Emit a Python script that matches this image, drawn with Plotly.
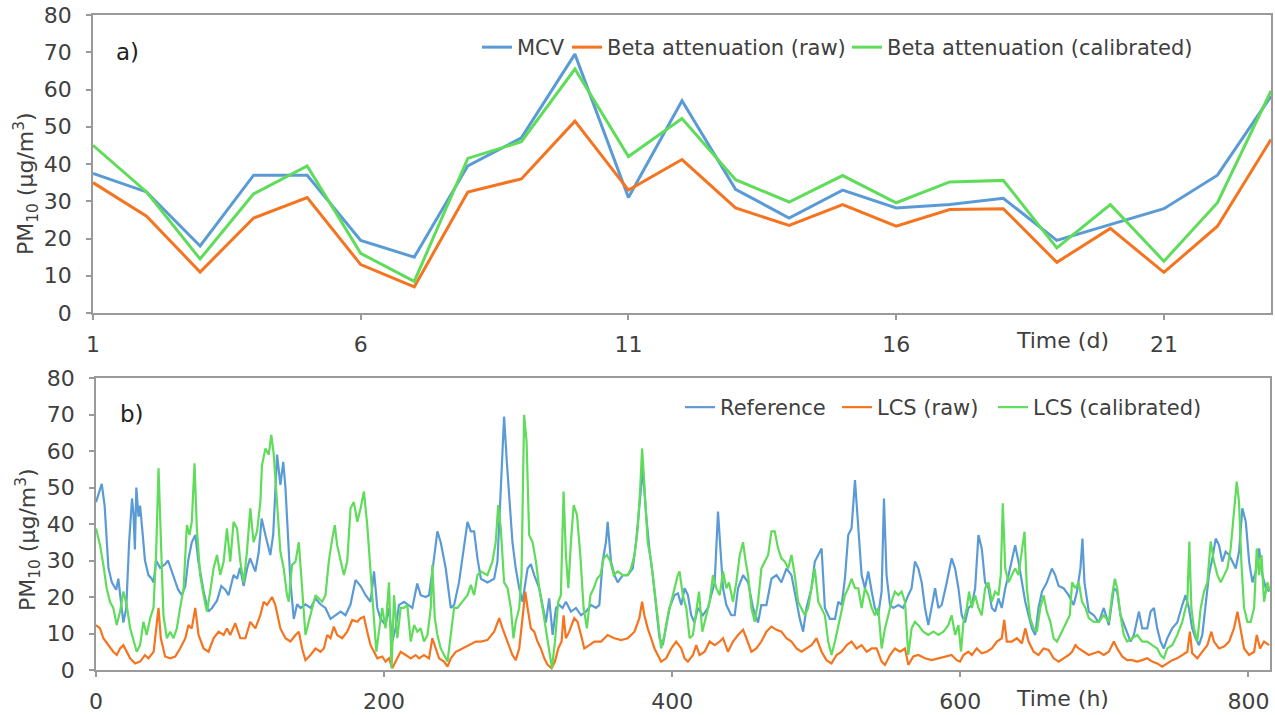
import plotly.graph_objects as go

# ---------------- Panel a) daily data ----------------
days = list(range(1, 24))
mcv = [37.5, 32.5, 18, 37, 37, 19.5, 15, 39.5, 47, 69.5, 31, 57, 33.2, 25.5, 33, 28.2, 29.1, 30.8, 19.5, 23.7, 28, 37, 58.2]
beta_raw = [35, 26, 11, 25.5, 31, 13, 7, 32.5, 36, 51.5, 33, 41.2, 28.2, 23.5, 29.1, 23.3, 27.8, 28, 13.6, 22.7, 10.9, 23.3, 46.6]
beta_cal = [45, 32.5, 14.5, 32, 39.5, 16, 8.5, 41.5, 46, 65.5, 42, 52.2, 35.8, 29.8, 36.9, 29.6, 35.2, 35.6, 17.5, 29.1, 13.9, 29.6, 59.6]
day_ticks = [1, 6, 11, 16, 21]

# ---------------- Panel b) hourly data (read at turning points) ----------------
ref_h = [0, 4, 6, 7.4, 8.6, 11, 14, 15.5, 18, 19, 21, 23, 25, 26, 27, 28, 29.5, 30.6, 32, 34, 36.4, 38.7, 40, 41.7, 44.5, 48, 50, 52.6, 55, 57, 59.6, 62, 64, 66.5, 69, 71, 74.7, 78, 80.5, 84, 87, 89.7, 92, 95.5, 98, 100, 102.5, 105, 107, 110.6, 113, 115, 117.6, 121, 123, 125.7, 128, 130, 131.5, 133, 135, 137.3, 139.6, 142, 145.4, 149, 152.4, 155.8, 159.3, 162.8, 166.3, 169.8, 173.2, 176.7, 180.2, 183.7, 187.2, 190.6, 193, 195.3, 197.6, 201, 203.4, 205.7, 208, 210.3, 213.8, 217.3, 219.6, 223, 225.4, 228.9, 231.2, 233.5, 237, 239.3, 242.8, 246.3, 248.6, 252, 255.6, 257.9, 260.2, 262.5, 264.8, 267.2, 271.7, 276.4, 278.7, 281, 283.3, 285.2, 286.8, 289.1, 291.4, 293.8, 296.1, 299.6, 301.9, 304.2, 307.7, 310, 312.3, 314.6, 317, 319.3, 321.6, 323.9, 326.2, 329.7, 333.2, 336.7, 340.1, 343.6, 347.1, 349.4, 351.7, 354, 355.2, 357.5, 359.9, 362.2, 365.7, 369.1, 372.6, 374.9, 377.2, 379.6, 381.9, 384.2, 386.5, 388.8, 391.2, 393.5, 395.8, 398.1, 401.6, 404, 406.3, 408.6, 410.9, 413.2, 415.5, 417.9, 421.3, 424.8, 427.1, 429.5, 431.8, 433.4, 435.3, 437.6, 441, 443.4, 445.7, 449.2, 452.7, 456.1, 459.6, 461.9, 465.4, 468.9, 472.4, 475.8, 479.3, 482.8, 486.3, 488.6, 490.9, 493.2, 496.7, 499, 501.4, 503.7, 506, 509.5, 513, 515.3, 517.6, 519.9, 522.2, 524.5, 526.9, 529.2, 531.5, 533.8, 536.1, 538.5, 540.7, 543, 545.4, 547, 548.8, 551.2, 553.5, 557, 560.4, 563.9, 566.2, 568.5, 570.9, 573.2, 575.5, 577.8, 580.1, 582.5, 584.8, 587.1, 590.6, 594, 596.4, 598.7, 601, 603.3, 605.6, 608, 610.3, 612.6, 614.9, 617.2, 619.6, 621.9, 624.2, 626.5, 628.8, 631.2, 633.5, 635.8, 638.1, 640.4, 642.8, 645.1, 647.4, 649.7, 652, 654.3, 656.7, 660.1, 663.6, 665.9, 668.3, 671.7, 675.2, 678.7, 681, 683.4, 684.8, 686.2, 689.2, 692.7, 696.1, 699.6, 703.1, 706.6, 708.9, 711.2, 714.7, 718.2, 720.5, 724, 726.3, 729.8, 732.1, 734.4, 736.7, 739, 741.3, 743.7, 747.1, 750.6, 754.1, 756.4, 758.7, 761, 763.4, 765.7, 768, 770.3, 772.6, 775, 777.3, 779.6, 781.9, 784.2, 786.6, 788.9, 791.2, 793.5, 795.8, 798.2, 800.5, 802.8, 805.1, 807.4, 809.7, 812.1, 814.4]
ref_v = [46, 51, 45, 37, 28, 24, 22, 25, 17, 13, 17, 35, 47, 43, 33, 50, 42, 45, 39, 30, 26, 25, 24, 30, 28, 29, 30, 27, 24, 22, 20.5, 23, 30, 35, 37, 30, 21.5, 16, 17, 19, 23, 22, 20.5, 26, 25, 28, 23, 28, 30.6, 27, 32.4, 41.5, 37, 31.5, 37, 59, 50.7, 57, 50, 38, 24, 14, 18, 17, 18, 17, 19.6, 18, 17, 14, 15, 16, 15, 18, 24.7, 23, 20.5, 18.7, 27, 17, 14, 12.3, 17, 7.8, 11.4, 17.8, 18.7, 17.8, 17, 23.7, 20.5, 20, 20.5, 27, 38, 35, 27.8, 17, 17.8, 24, 35, 40.6, 38, 38, 30.6, 25, 24, 25, 29.7, 48.9, 69.4, 57, 47, 35, 27.8, 22.4, 18.7, 27.8, 29, 26, 22.4, 17.8, 13, 19.6, 9.6, 17, 17.8, 17, 18.7, 16, 17, 15, 16, 17.8, 17, 17.8, 29.7, 35, 40.6, 29.7, 26, 24, 26, 26, 27.8, 35, 44, 55, 42.5, 33, 26, 17, 8.7, 6.8, 12.3, 17, 20.5, 21, 17.8, 22.4, 20.5, 15, 13, 17, 15, 17, 20.5, 24, 43.4, 35, 22.4, 17.8, 15, 15, 22.4, 26, 24, 17, 13, 17.8, 17.8, 25, 26, 24, 27.8, 26, 18.7, 14, 10.5, 17, 22.4, 29.7, 31.5, 33.3, 17, 14, 14, 18.7, 17.8, 25, 37, 38.8, 52, 38.8, 26, 22.4, 27, 21.5, 17, 15, 21.5, 47, 26, 17.8, 17, 17.8, 17, 20.5, 22.4, 29.7, 27.8, 24, 17, 12.3, 17, 22.4, 17, 17.8, 24, 30.6, 27.8, 22.4, 15, 13, 17, 17.8, 22.4, 37, 33.3, 24, 22.4, 17, 16, 19.6, 17, 22.4, 26, 30.6, 34.2, 29.7, 24, 18.7, 15, 11.4, 9.6, 17, 21.5, 24, 27.8, 26, 23, 22.4, 20.5, 17.8, 21.5, 27.8, 36, 24, 16, 15, 13, 17, 12.3, 22.4, 21.5, 15, 11.4, 7.8, 9.6, 16, 11.4, 11.4, 16, 17, 11.4, 7.8, 5.9, 8.7, 11.4, 13, 17.8, 20.5, 17, 11.4, 8.7, 6.8, 9.6, 17, 26, 30.6, 36, 34.2, 29.7, 32.4, 31.5, 29.7, 27.8, 32.4, 44.3, 40.6, 29.7, 24, 27, 33.3, 26, 22.4, 21.5]

raw_h = [0, 2.8, 5.1, 8.6, 12, 14.4, 16.7, 19, 21.3, 23.7, 27.1, 30.6, 34, 36.4, 40, 41.7, 43.4, 45, 48, 51.5, 55, 58.4, 62, 64.2, 66.5, 68.9, 71.2, 74.7, 78.1, 81.6, 85.1, 88.6, 90.9, 93.2, 96.7, 100.2, 103.7, 107.1, 110.6, 114.1, 116.4, 118.7, 122.2, 124.5, 128, 131.5, 135, 138.5, 140.8, 143.1, 145.4, 148.9, 152.4, 155.8, 158.2, 160.5, 162.8, 165.1, 167.4, 170.9, 174.4, 177.9, 181.4, 183.7, 186, 188.3, 190.6, 193, 195.3, 198.7, 201, 203.4, 205.7, 208, 211.5, 215, 218.5, 221.9, 224.3, 227.7, 231.2, 233.5, 235.8, 238.2, 241.6, 244, 246.3, 249.8, 254.4, 259, 263.7, 267.1, 271.7, 276.4, 279.9, 282.2, 285.7, 289.1, 291.4, 293.8, 296.1, 298, 299.6, 301.9, 304.2, 306.5, 308.8, 311.2, 313.5, 316.3, 318.6, 320.9, 323.2, 324.6, 326.2, 328.5, 332, 334.3, 336.7, 339, 342.5, 345.9, 350.6, 355.2, 359.9, 364.5, 369.1, 373.8, 377.2, 379.1, 380.7, 383, 385.4, 387.7, 390, 392.3, 395.8, 399.3, 402.8, 406.3, 408.6, 410.9, 414.4, 416.7, 419, 422.5, 426, 429.5, 433, 435.3, 438.7, 442.2, 445.7, 449.2, 451.5, 455, 458.4, 461.9, 465.4, 468.9, 472.4, 475.8, 479.3, 482.8, 486.3, 489.8, 493.2, 496.7, 500.2, 503.7, 507.1, 510.6, 514.1, 517.6, 521.1, 524.5, 528, 531.5, 535, 538.5, 541.9, 545.4, 547.7, 551.2, 554.6, 558.1, 561.6, 563.9, 567.4, 570.9, 575.5, 580.1, 584.8, 589.4, 594, 597.5, 599.8, 602.2, 605.6, 608, 611.4, 614.9, 618.4, 621.9, 625.4, 628.8, 630.5, 632.3, 635.8, 639.3, 642.8, 645.1, 647.4, 650.9, 654.3, 657.8, 661.3, 664.8, 668.3, 671.7, 675.2, 677.6, 679.9, 682.2, 685.7, 689.2, 692.7, 696.1, 699.6, 703.1, 706.6, 708.9, 712.4, 715.8, 719.3, 722.8, 726.3, 729.8, 733.2, 736.7, 740.2, 743.7, 747.1, 750.6, 754.1, 757.6, 759.4, 761, 764.5, 768, 771.5, 774.3, 776.1, 779.6, 783.1, 786.6, 790, 792.4, 794.7, 797, 800.5, 804, 805.8, 808.1, 810.9, 814.4]
raw_v = [12.3, 11.4, 8.7, 6.8, 5, 4.1, 5.9, 6.8, 5, 3.2, 1.8, 2.3, 4.1, 3.2, 5, 11.4, 17, 8.7, 3.7, 3.2, 3.7, 5.9, 8.7, 12.3, 11.4, 17, 9.6, 5.9, 5, 8.7, 10.5, 9.6, 11.4, 9.6, 12.8, 8.7, 8.7, 13.2, 11.4, 15, 18.7, 17.8, 20, 17.8, 11.4, 8.7, 7.8, 9.6, 10.5, 5.9, 2.7, 4.1, 5.9, 5, 5.9, 9.6, 8.7, 11.9, 9.6, 8.7, 10.5, 13.7, 13.2, 14.2, 14.6, 10.5, 6.8, 5, 3.2, 3.7, 2.3, 3.2, 0.5, 2.3, 5, 4.1, 3.2, 4.1, 3.2, 4.1, 3.2, 8.7, 5.9, 3.2, 2.3, 0.9, 3.2, 5, 5.9, 6.8, 7.8, 7.8, 8.2, 10.5, 14.2, 11.4, 7.8, 4.1, 2.7, 5.9, 14.2, 21.5, 17, 11.4, 10.5, 7.8, 5.9, 3.2, 1.4, 0.5, 2.3, 5.9, 7.8, 15, 8.7, 10.5, 14.2, 13.2, 9.6, 5.9, 6.8, 7.8, 7.8, 9.6, 8.7, 8.2, 8.7, 10.5, 14.2, 18.7, 15, 11.4, 8.7, 5.9, 4.1, 2.3, 3.2, 5.9, 7.8, 5.9, 3.2, 2.3, 4.1, 6.8, 4.1, 5, 7.8, 6.8, 7.8, 8.7, 5, 7.8, 9.6, 11, 8.7, 5, 5.9, 7.8, 10.5, 11.9, 11, 10.5, 8.7, 7.8, 5.9, 5, 5.9, 6.8, 8.7, 5, 2.7, 1.8, 4.1, 5, 6.8, 7.8, 5.9, 6.8, 5, 5.9, 5.9, 2.3, 1.4, 4.1, 5.9, 5, 5.9, 1.4, 3.7, 4.1, 3.2, 2.7, 3.2, 3.7, 4.1, 2.7, 2.3, 4.1, 5, 4.1, 5.9, 4.6, 5, 5.9, 7.8, 8.7, 13.7, 7.8, 7.8, 8.7, 7.3, 11.4, 7.8, 5, 4.1, 5.9, 5.5, 3.2, 2.3, 3.2, 4.1, 5, 6.8, 5.9, 5, 4.1, 4.6, 5, 4.1, 5, 7.8, 5.9, 3.7, 2.7, 2.7, 2.3, 2.7, 3.2, 2.3, 1.8, 0.9, 1.8, 2.7, 3.2, 4.1, 5, 10.5, 4.6, 3.2, 5, 6.8, 10.5, 7.8, 5.9, 6.4, 7.8, 11.4, 16, 11.4, 5.9, 4.1, 5, 9.6, 5.9, 7.8, 6.8]

cal_h = [0, 2.8, 5.1, 7.4, 9.7, 12, 14.4, 16.7, 19, 21.3, 23.7, 26, 28.3, 30.6, 32.9, 35.2, 37.6, 39.9, 41.7, 43.4, 45, 46.8, 49.2, 51.5, 53.8, 56.1, 58.4, 60.8, 63.1, 64.9, 66.5, 68.4, 70, 72.3, 74.7, 77, 79.3, 81.6, 84, 86.3, 88.6, 90.9, 93.2, 95.5, 97.9, 100.2, 102.5, 104.8, 107.1, 109.4, 111.8, 114.1, 115.2, 117.6, 119.9, 121.7, 123.4, 125.7, 128, 130.3, 132.6, 133.8, 136.1, 138.5, 140.8, 143.1, 145.4, 147.7, 150, 152.4, 154.7, 157, 159.3, 161.6, 164, 165.8, 167.4, 169.8, 172.1, 174.4, 176.7, 179, 181.4, 183.7, 186, 188.3, 190.6, 193, 194.6, 196.4, 198.7, 201, 203.4, 205.2, 206.9, 209.2, 211.5, 213.8, 216.1, 218.5, 220.8, 223.1, 225.4, 227.7, 230.1, 232.4, 233.5, 235.2, 237, 239.3, 241.6, 244, 246.3, 248.6, 250.9, 254.4, 257.9, 260.2, 262.5, 264.8, 267.2, 271.7, 275.2, 277.5, 279.2, 281, 283.3, 285.7, 288, 289.8, 291.4, 293.8, 295.4, 297.2, 298.9, 300.7, 303.1, 305.4, 307.7, 310, 312.3, 314.6, 316.5, 318.6, 320.9, 322.7, 324.6, 326.2, 327.9, 329.7, 331.6, 333.9, 336.2, 338.5, 340.8, 343.2, 345.5, 347.8, 350.1, 352.4, 354.7, 357.1, 359.4, 362.2, 365.7, 369.1, 371.4, 373.8, 376.1, 377.9, 379.1, 380.7, 383, 385.4, 387.7, 390, 392.3, 394.6, 397, 399.3, 401.6, 403.9, 405.1, 407.4, 409.8, 412.1, 414.4, 416.7, 418.6, 420.9, 423.7, 426, 428.3, 430.6, 433, 435.3, 437.6, 439.4, 442.2, 444.5, 446.9, 449.2, 451, 452.7, 455, 457.3, 459.6, 461.9, 464.3, 466.6, 468.9, 471.2, 473.5, 475.8, 478.2, 480.5, 482.8, 485.1, 487.4, 489.8, 492.1, 494.4, 496.7, 499, 501.4, 503.7, 506, 508.3, 510.6, 513, 515.3, 517.6, 519.9, 522.2, 524.5, 526.9, 529.2, 531.5, 533.8, 536.1, 538.5, 540.7, 543, 545.4, 547.7, 550, 552.3, 554.6, 557, 559.3, 561.6, 563.9, 566.2, 568.5, 570.9, 574.3, 577.8, 581.3, 584.8, 588.3, 591.7, 594, 596.4, 598.7, 600.5, 602.2, 604.5, 606.1, 608, 610.3, 612.6, 614.9, 617.2, 619.6, 621.9, 624.2, 626.5, 628.1, 629.5, 631.2, 633.5, 635.8, 638.1, 640.4, 642.8, 644.6, 646.2, 648.5, 650.9, 653.2, 655.5, 657.8, 660.1, 662.5, 664.8, 667.1, 669.4, 671.7, 674.1, 676, 677.6, 679.9, 682.2, 684.5, 686.9, 689.2, 692.7, 696.1, 699.6, 703.1, 705.4, 707.3, 708.9, 711.2, 713.5, 715.8, 719.3, 722.8, 726.3, 729.8, 733.2, 736.7, 739, 741.3, 743.7, 747.1, 750.6, 754.1, 756.4, 757.6, 759, 760.4, 762.2, 764.5, 766.9, 769.2, 771.5, 773.8, 776.1, 778.5, 780.8, 783.1, 785.4, 787.7, 790, 791.9, 793.5, 795.1, 797, 799.3, 801.6, 804, 805.8, 807.4, 809.1, 810.9, 813.2, 814.9]
cal_v = [38.8, 34.2, 28.8, 22.4, 18.7, 17, 12.3, 16, 21.5, 17.8, 11.4, 7.8, 5, 6.8, 13.2, 9.6, 14.2, 17, 31.5, 55.3, 37, 15, 8.7, 10.5, 8.7, 11.4, 17, 22.4, 39.7, 37, 40.6, 56.6, 38.8, 26, 20.5, 16, 21.5, 27.8, 31.5, 26, 29.7, 38.8, 29.7, 40.6, 38.8, 29.7, 24, 32.4, 44.3, 35, 38, 46, 56, 60.7, 59, 64.4, 59, 45, 32.4, 27.8, 20.5, 18.7, 28.8, 29.7, 35, 22.4, 9.6, 13.2, 17, 20.5, 19.6, 18.7, 20.5, 29.7, 36, 39.7, 34.2, 29.7, 26, 29.7, 44.3, 46, 40.6, 44.3, 48.9, 39.7, 26, 12.3, 5, 10.5, 17, 11.4, 24, 0.5, 20.5, 8.7, 17, 17, 17.8, 7.8, 12.3, 10.5, 11.4, 7.8, 9.6, 17, 28.8, 14.2, 9.6, 5.9, 4.1, 2.3, 9.6, 17, 17, 18.7, 20.5, 23.3, 20.5, 26, 27, 26, 29.7, 35, 45.2, 38.8, 24, 22.4, 17, 8.7, 13.2, 17, 26, 69.9, 62.6, 37, 35, 29.7, 22.4, 17, 11.4, 5.9, 0.5, 7.8, 18.7, 20.5, 48.9, 31.5, 22.4, 35, 45.2, 42.5, 31.5, 17, 11.4, 20.5, 22.4, 25, 26, 30.6, 31.5, 29.7, 26, 27, 26, 26, 27.8, 31.5, 38.8, 50.7, 60.7, 50.7, 35, 29.7, 22.4, 14.2, 5.9, 9.6, 15, 18.7, 22.4, 26, 27, 20.5, 17, 8.7, 9.6, 17, 21.5, 10.5, 15, 18.7, 26, 22.4, 20.5, 27, 22.4, 24, 18.7, 24, 31.5, 35, 29.7, 26, 17, 13.2, 18.7, 27.8, 29.7, 31.5, 38, 38, 33.3, 30.6, 29.7, 27.8, 31.5, 26, 18.7, 17, 15, 17, 22.4, 27.8, 18.7, 17, 15, 7.8, 4.1, 7.8, 12.3, 17, 20.5, 22.4, 25, 22.4, 22.4, 17, 22.4, 20.5, 17, 15, 17, 5.9, 11.4, 15, 18.7, 21.5, 20.5, 21.5, 18.7, 4.1, 11.4, 13.2, 12.3, 10.5, 9.6, 10.5, 9.6, 10.5, 12.3, 15, 9.6, 12.3, 5, 13.2, 17, 21.5, 17, 20.5, 17, 15, 22.4, 24, 18.7, 21.5, 20.5, 26, 45.7, 27.8, 24, 26, 27.8, 26, 33.3, 37.9, 22.4, 14.2, 11.4, 10.5, 17, 20.5, 16, 13.2, 8.7, 7.8, 9.6, 11.4, 13.2, 15, 24, 22.4, 24, 18.7, 17, 14.2, 13.2, 13.2, 15, 13.2, 20.5, 25, 22.4, 15, 9.6, 7.8, 8.7, 9.6, 7.8, 7.8, 6.8, 5.9, 4.1, 3.2, 5.9, 6.8, 9.6, 13.2, 17, 18.7, 35.2, 17, 11.4, 7.8, 17, 21.5, 24, 35.2, 29.7, 26, 24, 26, 27.8, 33.3, 44.3, 51.6, 46, 29.7, 17, 13.2, 13.2, 17, 33.3, 26, 31.5, 18.7, 24, 21.5]
hour_ticks = [0, 200, 400, 600, 800]

# ---------------- styling ----------------
W, H = 1275, 715
BLUE, ORANGE, GREEN = "#5b9bd5", "#f47420", "#5fdc5a"
TXT = "#404040"
AX = "#9a9a9a"
FONT = "DejaVu Sans, Verdana, sans-serif"
FS_TICK = 22
FS_LEG = 21


def px_x(p):
    return p / W


def px_y(p):
    return 1 - p / H


fig = go.Figure()

fig.add_trace(go.Scatter(x=days, y=mcv, mode="lines", name="MCV", line=dict(color=BLUE, width=3),
                         xaxis="x", yaxis="y", legend="legend", legendwidth=45))
fig.add_trace(go.Scatter(x=days, y=beta_raw, mode="lines", name="Beta attenuation (raw)", line=dict(color=ORANGE, width=3),
                         xaxis="x", yaxis="y", legend="legend", legendwidth=235))
fig.add_trace(go.Scatter(x=days, y=beta_cal, mode="lines", name="Beta attenuation (calibrated)", line=dict(color=GREEN, width=3),
                         xaxis="x", yaxis="y", legend="legend"))

fig.add_trace(go.Scatter(x=ref_h, y=ref_v, mode="lines", name="Reference", line=dict(color=BLUE, width=2.2),
                         xaxis="x2", yaxis="y2", legend="legend2", legendwidth=112))
fig.add_trace(go.Scatter(x=raw_h, y=raw_v, mode="lines", name="LCS (raw)", line=dict(color=ORANGE, width=2.2),
                         xaxis="x2", yaxis="y2", legend="legend2", legendwidth=111))
fig.add_trace(go.Scatter(x=cal_h, y=cal_v, mode="lines", name="LCS (calibrated)", line=dict(color=GREEN, width=2.2),
                         xaxis="x2", yaxis="y2", legend="legend2"))

axis_common = dict(showline=True, linecolor=AX, linewidth=1.5, mirror=True, showgrid=False, zeroline=False,
                   ticks="outside", ticklen=5, tickcolor=AX, tickwidth=1.5, ticklabeloverflow="allow",
                   tickfont=dict(family=FONT, size=FS_TICK, color=TXT), automargin=False)

fig.update_layout(
    width=W, height=H,
    margin=dict(l=0, r=0, t=0, b=0),
    paper_bgcolor="white", plot_bgcolor="white",
    font=dict(family=FONT, size=FS_TICK, color=TXT),
    xaxis=dict(domain=[px_x(93), px_x(1271)], anchor="y", range=[1, 23], tickvals=day_ticks,
               ticklabelstandoff=6, **axis_common),
    yaxis=dict(domain=[px_y(313), px_y(15)], anchor="x", range=[0, 80], dtick=10,
               ticklabelstandoff=10, **axis_common),
    xaxis2=dict(domain=[px_x(96), px_x(1270)], anchor="y2", range=[0, 815], tickvals=hour_ticks,
                ticklabelstandoff=6, **axis_common),
    yaxis2=dict(domain=[px_y(670), px_y(378)], anchor="x2", range=[0, 80], dtick=10,
                ticklabelstandoff=10, **axis_common),
    legend=dict(orientation="h", x=px_x(477), xanchor="left", y=px_y(27), yanchor="top",
                bgcolor="rgba(0,0,0,0)", font=dict(family=FONT, size=FS_LEG, color=TXT), itemwidth=30),
    legend2=dict(orientation="h", x=px_x(680), xanchor="left", y=px_y(387), yanchor="top",
                 bgcolor="rgba(0,0,0,0)", font=dict(family=FONT, size=FS_LEG, color=TXT), itemwidth=30),
    showlegend=True,
)

ann = [
    dict(text="a)", x=px_x(127), y=px_y(52), font=dict(family=FONT, size=23, color="#222222")),
    dict(text="b)", x=px_x(132), y=px_y(414), font=dict(family=FONT, size=23, color="#222222")),
    dict(text="PM<sub>10</sub> (µg/m<sup>3</sup>)", x=px_x(26), y=px_y(184), textangle=-90),
    dict(text="PM<sub>10</sub> (µg/m<sup>3</sup>)", x=px_x(28), y=px_y(540), textangle=-90),
    dict(text="Time (d)", x=px_x(1062), y=px_y(340)),
    dict(text="Time (h)", x=px_x(1062), y=px_y(698)),
]
for a in ann:
    fig.add_annotation(xref="paper", yref="paper", showarrow=False, xanchor="center", yanchor="middle",
                       font=a.pop("font", dict(family=FONT, size=FS_TICK, color=TXT)), **a)

# remove the default 8 px page margin so the 1275x715 figure fills the window exactly
fig.write_html("out.html", config={"displayModeBar": False},
               post_script="document.body.style.margin='0';document.body.style.overflow='hidden';")
